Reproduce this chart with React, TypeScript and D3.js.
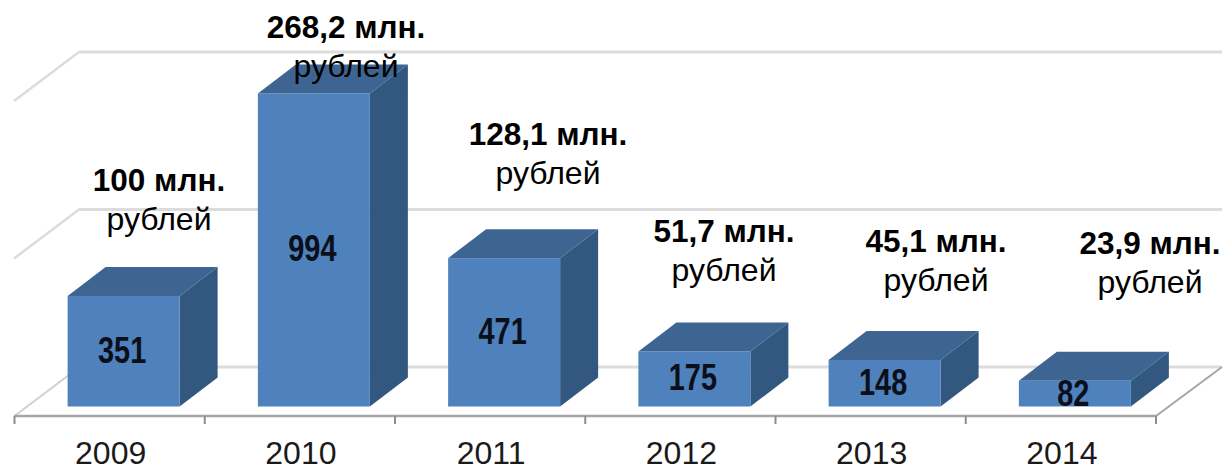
import React from "react";
import * as d3 from "d3";

const years = ["2009", "2010", "2011", "2012", "2013", "2014"];
const counts = [351, 994, 471, 175, 148, 82];
const amounts = ["100 млн.", "268,2 млн.", "128,1 млн.", "51,7 млн.", "45,1 млн.", "23,9 млн."];
const unitLabel = "рублей";
const gridValues = [0, 500, 1000];
const amountCx = [159, 346, 548, 724, 936, 1150];
const amountBase = [191, 38, 145, 242, 252, 254];

const W = 1223, H = 466;
const FONT = "'Liberation Sans', Arial, sans-serif";
const axisY = 416, dx = 38, dy = 29, wallDx = 65, wallDy = 49, barW = 112;

export default function App() {
  const x = d3.scaleBand<string>().domain(years).range([14.5, 1156]);
  const y = d3.scaleLinear().domain([0, 1000]).range([406.5, 91.5]);
  const backY = (v: number) => y(v) - 39.5;
  const ticks = [...x.domain().map((d) => x(d)!), 1156];
  return (
    <svg width={W} height={H} style={{ position: "absolute", left: 0, top: 0, background: "#fff" }} fontFamily={FONT}>
      {gridValues.map((v) => {
        const by = backY(v);
        return (
          <g key={v} fill="none" stroke="#dcdcdc" strokeWidth={3}>
            <line x1={79} x2={1222} y1={by} y2={by} />
            {v > 0 && <line x1={14} x2={14 + wallDx} y1={by + wallDy} y2={by} strokeWidth={2.5} />}
          </g>
        );
      })}
      <line x1={14.5} x2={14.5 + wallDx} y1={axisY} y2={axisY - wallDy} stroke="#d0d0d0" strokeWidth={2} />
      <line x1={1156} x2={1222} y1={axisY} y2={axisY - wallDy} stroke="#a6a6a6" strokeWidth={2} />
      <line x1={14} x2={1157} y1={axisY} y2={axisY} stroke="#a6a6a6" strokeWidth={2.5} />
      {ticks.map((t) => (
        <line key={t} x1={t} x2={t} y1={axisY} y2={424} stroke="#8c8c8c" strokeWidth={2} />
      ))}
      {years.map((yr, i) => {
        const cx = x(yr)! + x.bandwidth() / 2 + 14;
        const x0 = cx - barW / 2, x1 = cx + barW / 2;
        const top = y(counts[i]), bot = y(0);
        const topPts = [[x0, top], [x1, top], [x1 + dx, top - dy], [x0 + dx, top - dy]];
        const sidePts = [[x1, top], [x1 + dx, top - dy], [x1 + dx, bot - dy], [x1, bot]];
        return (
          <g key={yr}>
            <polygon points={topPts.join(" ")} fill="#3e6592" />
            <polygon points={sidePts.join(" ")} fill="#335880" />
            <rect x={x0} y={top} width={barW} height={bot - top} fill="#4f81bd" />
          </g>
        );
      })}
      {years.map((yr, i) => {
        const cx = x(yr)! + x.bandwidth() / 2 + 14 - 1.5;
        const my = (y(counts[i]) + y(0)) / 2;
        const ly = counts[i] < 100 ? y(0) - 0.5 : my + 11.5;
        return (
          <g key={yr}>
            <text
              transform={`translate(${cx},${ly}) scale(0.78,1)`}
              textAnchor="middle"
              fontWeight="bold"
              fontSize={37}
              fill="#0b0f1a"
            >
              {counts[i]}
            </text>
            <text x={x(yr)! + x.bandwidth() / 2 + 1} y={464} textAnchor="middle" fontSize={32} fill="#1a1a1a">
              {yr}
            </text>
            <text x={amountCx[i]} y={amountBase[i]} textAnchor="middle" fontWeight="bold" fontSize={31.5} fill="#000">
              {amounts[i]}
            </text>
            <text x={amountCx[i]} y={amountBase[i] + 39} textAnchor="middle" fontSize={32} fill="#000">
              {unitLabel}
            </text>
          </g>
        );
      })}
    </svg>
  );
}
